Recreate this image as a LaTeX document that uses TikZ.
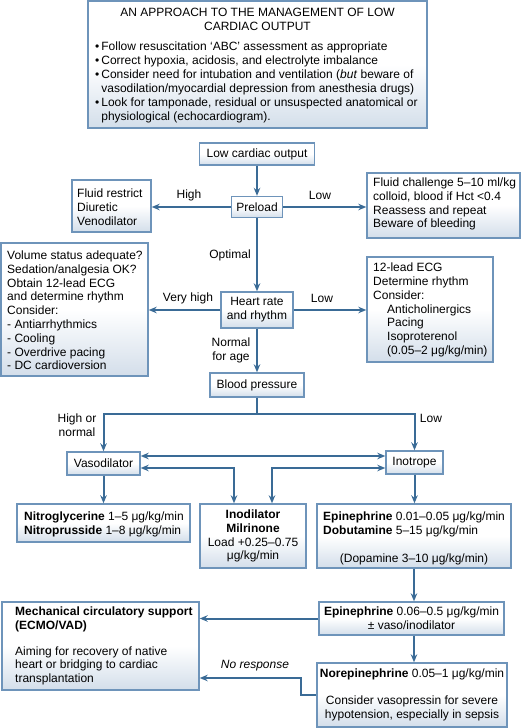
\documentclass[tikz,border=0pt]{standalone}
\usepackage{fontspec}
\setmainfont{Liberation Sans}
\usetikzlibrary{arrows.meta,calc}
\definecolor{arrc}{HTML}{3A6B96}
\definecolor{boxc}{HTML}{6E94BA}
\definecolor{boxbot}{HTML}{D3DEEA}
\begin{document}
\begin{tikzpicture}[x=1bp,y=-1bp,
  every node/.style={font=\fontsize{12bp}{13.8bp}\selectfont, inner sep=0pt},
  box/.style={draw=boxc, line width=1.4bp, top color=white, bottom color=boxbot, middle color=white},
  txt/.style={align=left, anchor=west},
  >={Stealth[length=8bp,width=6.5bp]},
  arr/.style={draw=arrc, line width=2bp, ->},
  dbl/.style={draw=arrc, line width=2bp, <->}]
\useasboundingbox (0,0) rectangle (530,728);

% top box
\node[box, minimum width=339bp, minimum height=127bp] (top) at (257.5,64.5) {};
\node[align=center] (title) at (257.5,19) {AN APPROACH TO THE MANAGEMENT OF LOW\\CARDIAC OUTPUT};
\node[anchor=west] (bullets) at (95,83) {\def\arraystretch{1.01}\begin{tabular}{@{}l@{\hspace{2bp}}l@{}}
• & Follow resuscitation ‘ABC’ assessment as appropriate\\
• & Correct hypoxia, acidosis, and electrolyte imbalance\\
• & Consider need for intubation and ventilation (\textit{but} beware of\\
  & vasodilation/myocardial depression from anesthesia drugs)\\
• & Look for tamponade, residual or unsuspected anatomical or\\
  & physiological (echocardiogram).
\end{tabular}};

% flow boxes
\node[box, minimum width=115bp, minimum height=22bp] (lco) at (257,154) {Low cardiac output};
\node[box, minimum width=51bp, minimum height=21bp] (pre) at (257,207) {Preload};
\node[box, minimum width=79bp, minimum height=52bp] (fl) at (111.5,206) {};
\node[txt] (flt) at (77,207) {Fluid restrict\\Diuretic\\Venodilator};
\node[box, minimum width=153bp, minimum height=65bp] (fr) at (443.5,205.5) {};
\node[txt] (frt) at (373,204) {Fluid challenge 5–10 ml/kg\\colloid, blood if Hct <0.4\\Reassess and repeat\\Beware of bleeding};

\node[box, minimum width=147bp, minimum height=133bp] (vol) at (74.5,309.5) {};
\node[txt] (volt) at (7,310.5) {Volume status adequate?\\Sedation/analgesia OK?\\Obtain 12-lead ECG\\and determine rhythm\\Consider:\\- Antiarrhythmics\\- Cooling\\- Overdrive pacing\\- DC cardioversion};
\node[box, minimum width=72bp, minimum height=36bp, align=center] (hr) at (257,310) {Heart rate\\and rhythm};
\node[box, minimum width=126bp, minimum height=105bp] (ecg) at (430,309.5) {};
\node[txt] (ecgt) at (373,310) {12-lead ECG\\Determine rhythm\\Consider:\\\hspace*{14bp}Anticholinergics\\\hspace*{14bp}Pacing\\\hspace*{14bp}Isoproterenol\\\hspace*{14bp}(0.05–2 μg/kg/min)};

\node[box, minimum width=94bp, minimum height=24bp] (bp) at (257,385) {Blood pressure};
\node[box, minimum width=73bp, minimum height=23bp] (vaso) at (103.5,463.5) {Vasodilator};
\node[box, minimum width=57bp, minimum height=23bp] (ino) at (414.5,462.5) {Inotrope};

\node[box, minimum width=173bp, minimum height=38bp] (nit) at (103.5,523) {};
\node[txt] (nitt) at (24,524) {\textbf{Nitroglycerine} 1–5 μg/kg/min\\\textbf{Nitroprusside} 1–8 μg/kg/min};
\node[box, minimum width=106bp, minimum height=64bp, align=center] (inod) at (253,536) {\textbf{Inodilator}\\\textbf{Milrinone}\\Load +0.25–0.75\\μg/kg/min};
\node[box, minimum width=194bp, minimum height=64bp] (epi1) at (414,536) {};
\node[txt] (epi1t) at (323,524) {\textbf{Epinephrine} 0.01–0.05 μg/kg/min\\\textbf{Dobutamine} 5–15 μg/kg/min};
\node (dopa) at (414,559) {(Dopamine 3–10 μg/kg/min)};

\node[box, minimum width=185bp, minimum height=33bp, align=center] (epi2) at (411.5,618.5) {\textbf{Epinephrine} 0.06–0.5 μg/kg/min\\± vaso/inodilator};
\node[box, minimum width=197bp, minimum height=88bp] (mech) at (100.5,646) {};
\node[txt] (mecht) at (15,646) {\textbf{Mechanical circulatory support}\\\textbf{(ECMO/VAD)}\\[12bp]Aiming for recovery of native\\heart or bridging to cardiac\\transplantation};
\node[box, minimum width=190bp, minimum height=64bp, align=center] (nore) at (412,695) {\textbf{Norepinephrine} 0.05–1 μg/kg/min\\[13bp]Consider vasopressin for severe\\hypotension, especially in sepsis};

% labels
\node (lHigh) at (189,195) {High};
\node (lLow1) at (320,195) {Low};
\node (lOpt) at (230,255) {Optimal};
\node (lVH) at (188,298) {Very high};
\node (lLow2) at (322,298) {Low};
\node[align=center] (lNorm) at (231,350) {Normal\\for age};
\node[align=center] (lHN) at (77,425) {High or\\normal};
\node (lLow3) at (431,418) {Low};
\node (lNR) at (255,666) {\textit{No response}};

% connectors
\draw[arr] (lco) -- (pre);
\draw[arr] (pre.west) -- (fl.east |- pre.west);
\draw[arr] (pre.east) -- (fr.west |- pre.east);
\draw[arr] (pre) -- (hr);
\draw[arr] (hr.west) -- (vol.east |- hr.west);
\draw[arr] (hr.east) -- (ecg.west |- hr.east);
\draw[arr] (hr) -- (bp);
\coordinate (split) at (257,414);
\draw[arr] (bp.south) -- (split) -| (vaso.north);
\draw[arr] (split) -| (ino.north);
\coordinate (up) at (0,456);
\coordinate (lo) at (0,468);
\draw[dbl] (vaso.east |- up) -- (ino.west |- up);
\draw[dbl] (vaso.east |- lo) -| ([xshift=-19bp]inod.north);
\draw[dbl] (ino.west |- lo) -| ([xshift=19bp]inod.north);
\draw[arr] (vaso) -- (nit);
\draw[arr] (ino.south) -- (ino.south |- epi1.north);
\draw[arr] (epi1.south) -- (epi1.south |- epi2.north);
\draw[arr] (epi2.west) -- (mech.east |- epi2.west);
\draw[arr] (epi1.south |- epi2.south) -- (epi1.south |- nore.north);
\coordinate (nrc) at (301,678);
\draw[arr] (nore.west) -| (nrc) -- (mech.east |- nrc);
\end{tikzpicture}
\end{document}
